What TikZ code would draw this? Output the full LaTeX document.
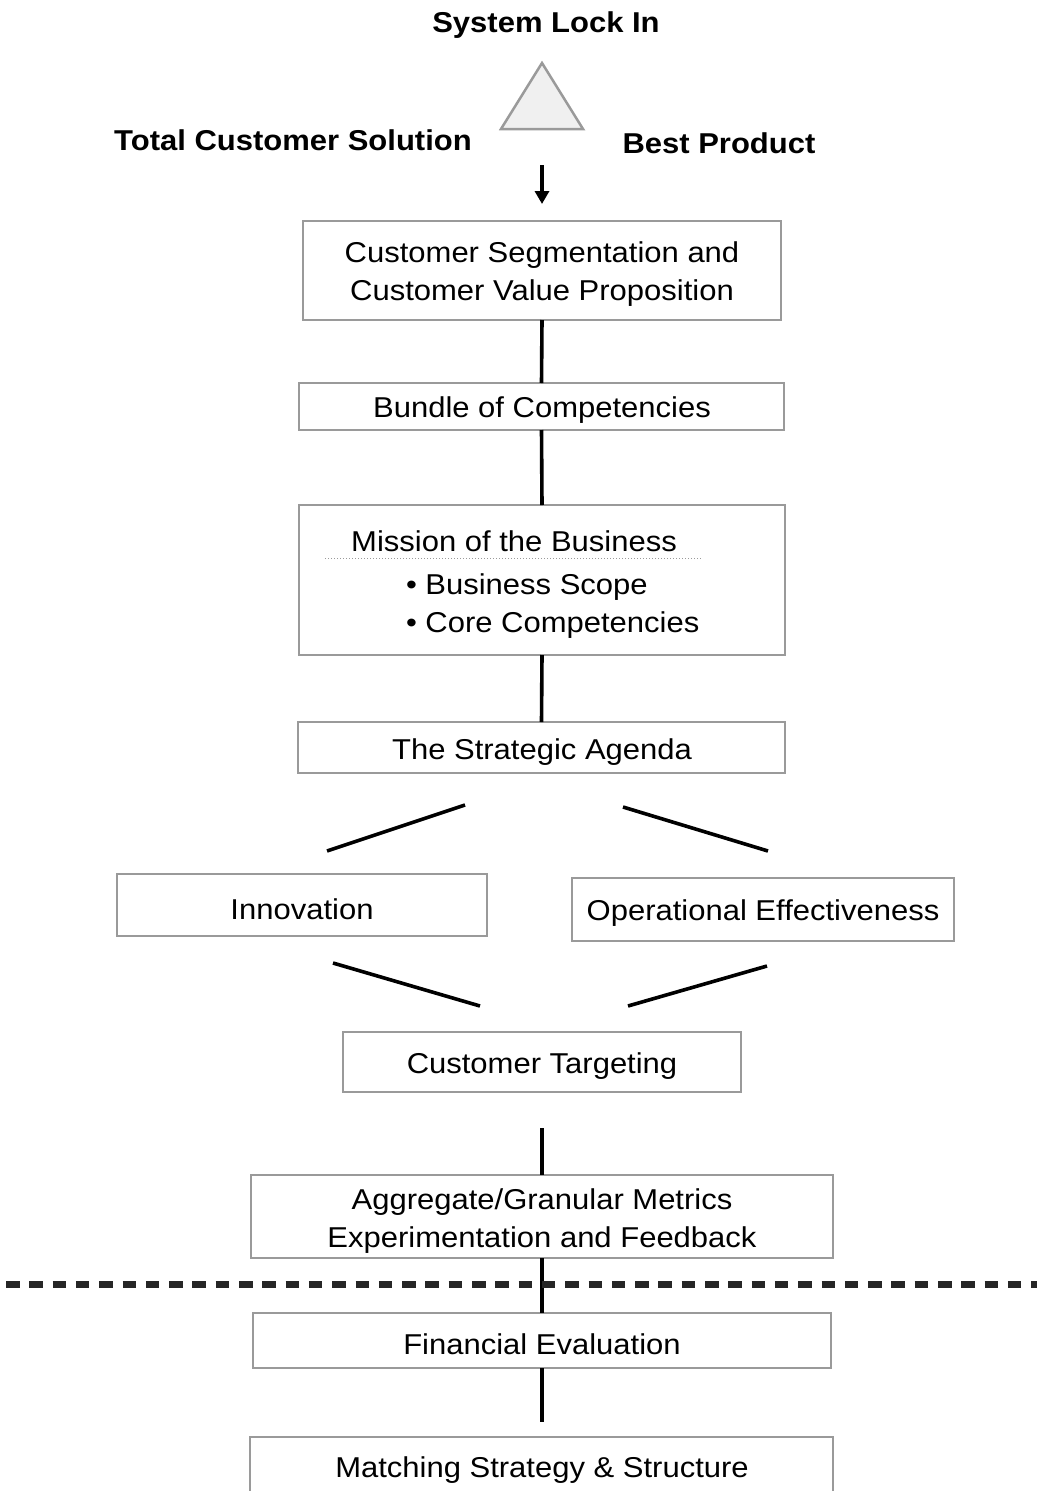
\documentclass[tikz,border=0pt]{standalone}
\usepackage{fontspec}
\setmainfont{Liberation Sans}[FakeStretch=1.08]
\usetikzlibrary{arrows.meta}
\definecolor{boxgray}{HTML}{9A9A9A}
\tikzset{
  every node/.style={inner sep=0pt, outer sep=0pt},
  txt/.style={font=\fontsize{28.7}{37.5}\selectfont, align=center},
  btxt/.style={font=\fontsize{28.7}{36}\bfseries\selectfont, align=center},
  stepbox/.style={draw=boxgray, line width=1.8pt, fill=white},
  conn/.style={line width=3.6pt, black},
  slant/.style={line width=3.6pt, black, line cap=butt},
}
\begin{document}
\begin{tikzpicture}[x=1pt,y=-1pt]
\useasboundingbox (0,0) rectangle (1037,1491);
% top labels
\node[btxt] (lock) at (546,25) {System Lock In};
\node[btxt] (tcs) at (293,140) {Total Customer Solution};
\node[btxt] (best) at (719,143) {Best Product};
\coordinate (apex) at (542,63);
\coordinate (bl) at (501,129);
\coordinate (br) at (583,129);
\draw[draw=boxgray, line width=2.5pt, fill=gray!12, line join=miter] (apex) -- (bl) -- (br) -- cycle;
\coordinate (arrs) at (542,165);
\coordinate (arre) at (542,204);
\draw[line width=3.5pt, -{Triangle[length=13pt,width=14pt]}] (arrs) -- (arre);
% boxes
\node[stepbox, minimum width=478pt, minimum height=99pt] (seg) at (542,270.5) {};
\node[txt] (segt) at (542,274) {Customer Segmentation and\\Customer Value Proposition};
\node[stepbox, minimum width=485pt, minimum height=47pt] (bun) at (541.5,406.5) {};
\node[txt] (bunt) at (542,410) {Bundle of Competencies};
\node[stepbox, line width=2.8pt, minimum width=486pt, minimum height=150pt] (mis) at (542,580) {};
\node[txt] (mist) at (514,541) {Mission of the Business};
\coordinate (dl) at (325,558);
\coordinate (dr) at (702,558);
\draw[boxgray, line width=1pt, dotted] (dl) -- (dr);
\node[txt, anchor=west] (b1) at (406,587) {\textbullet\ Business Scope};
\node[txt, anchor=west] (b2) at (406,625) {\textbullet\ Core Competencies};
\node[stepbox, minimum width=487pt, minimum height=51pt] (sa) at (541.5,747.5) {};
\node[txt] (sat) at (542,752) {The Strategic Agenda};
\node[stepbox, line width=2.5pt, minimum width=370pt, minimum height=62pt] (inn) at (302,905) {};
\node[txt] (innt) at (302,909) {Innovation};
\node[stepbox, line width=2.5pt, minimum width=382pt, minimum height=63pt] (op) at (763,909.5) {};
\node[txt] (opt) at (763,913) {Operational Effectiveness};
\node[stepbox, minimum width=398pt, minimum height=60pt] (ct) at (542,1062) {};
\node[txt] (ctt) at (542,1066) {Customer Targeting};
\node[stepbox, line width=2.5pt, minimum width=582pt, minimum height=83pt] (agg) at (542,1216.5) {};
\node[txt] (aggt) at (542,1221) {Aggregate/Granular Metrics\\Experimentation and Feedback};
\node[stepbox, line width=2.5pt, minimum width=578pt, minimum height=55pt] (fin) at (542,1340.5) {};
\node[txt] (fint) at (542,1344) {Financial Evaluation};
\node[stepbox, line width=2.5pt, minimum width=583pt, minimum height=70pt] (mat) at (541.5,1472) {};
\node[txt] (matt) at (542,1470) {Matching Strategy \& Structure};
% vertical connectors
\draw[conn] (seg.south) -- (bun.north);
\draw[conn] (bun.south) -- (mis.north);
\draw[conn] (mis.south) -- (sa.north);
% slanted lines
\coordinate (s1a) at (327,851); \coordinate (s1b) at (465,805);
\coordinate (s2a) at (623,807); \coordinate (s2b) at (768,851);
\coordinate (s3a) at (333,963); \coordinate (s3b) at (480,1006);
\coordinate (s4a) at (628,1006); \coordinate (s4b) at (767,966);
\draw[slant] (s1a) -- (s1b);
\draw[slant] (s2a) -- (s2b);
\draw[slant] (s3a) -- (s3b);
\draw[slant] (s4a) -- (s4b);
\coordinate (ctl) at (542,1128);
\draw[conn] (ctl) -- (agg.north);
% dashed line
\coordinate (dashl) at (6,1284);
\coordinate (dashr) at (1037,1284);
\draw[conn] (agg.south) -- (fin.north);
\draw[line width=7pt, color=black!85, dash pattern=on 13.5pt off 9.8pt] (dashl) -- (dashr);
\coordinate (fl) at (542,1422);
\draw[conn] (fin.south) -- (fl);
\end{tikzpicture}
\end{document}
